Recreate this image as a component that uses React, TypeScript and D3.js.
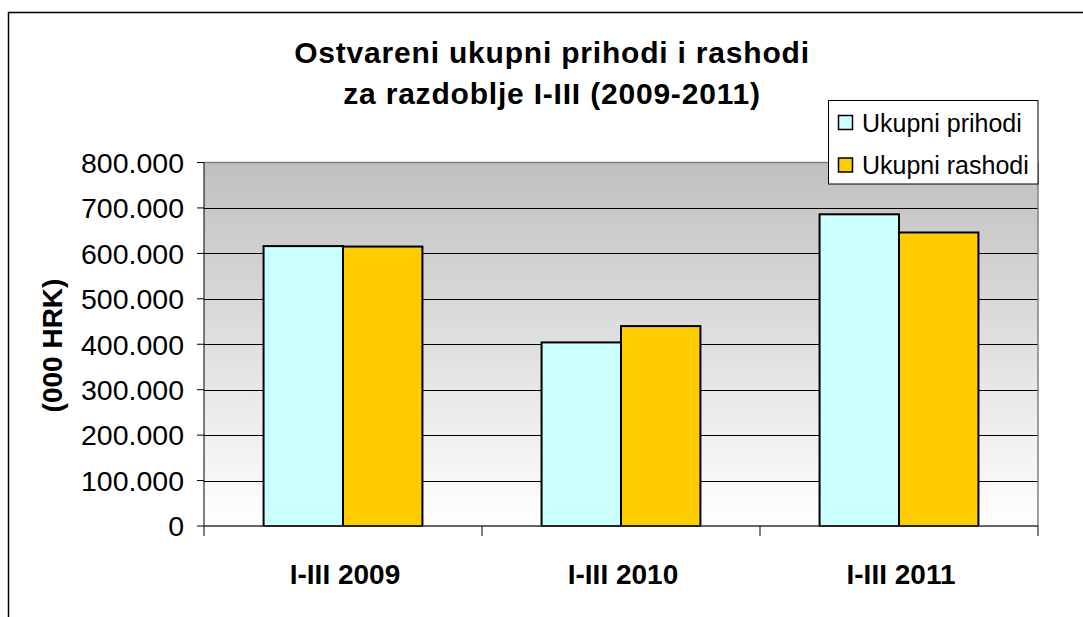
import React from 'react';
import * as d3 from 'd3';

// Chart data (values in thousands of HRK)
const categories = ['I-III 2009', 'I-III 2010', 'I-III 2011'];
const seriesNames = ['Ukupni prihodi', 'Ukupni rashodi'];
const prihodi = [616000, 404000, 686000];
const rashodi = [615000, 440000, 646000];
const yTicks = [0, 100000, 200000, 300000, 400000, 500000, 600000, 700000, 800000];
const titleLines = ['Ostvareni ukupni prihodi i rashodi', 'za razdoblje I-III (2009-2011)'];
const yAxisTitle = '(000 HRK)';

const colors = ['#CCFFFF', '#FFCC00'];
const FONT = '"Liberation Sans", Arial, sans-serif';

const W = 1083;
const H = 617;
const plot = { left: 204, right: 1038, top: 162.5, bottom: 526 };

const App: React.FC = () => {
  // scales
  const x0 = d3.scaleBand<string>().domain(categories).range([plot.left, plot.right]).padding(0);
  const x1 = d3
    .scaleBand<string>()
    .domain(seriesNames)
    .range([0, x0.bandwidth()])
    .paddingInner(0)
    .paddingOuter(0.75);
  const y = d3.scaleLinear().domain([0, 800000]).range([plot.bottom, plot.top]);

  // format numbers with dot as thousands separator
  const fmt = d3.formatLocale({ decimal: ',', thousands: '.', grouping: [3], currency: ['', ' kn'] }).format(',');

  const series = [prihodi, rashodi];

  return (
    <svg
      width={W}
      height={H}
      style={{ position: 'absolute', left: 0, top: 0, background: '#fff' }}
      fontFamily={FONT}
    >
      <defs>
        <linearGradient id="plotBg" x1="0" y1="0" x2="0" y2="1">
          <stop offset="0%" stopColor="#C0C0C0" />
          <stop offset="100%" stopColor="#FFFFFF" />
        </linearGradient>
      </defs>

      {/* outer chart border */}
      <rect x={8.5} y={12.5} width={1100} height={620} fill="#fff" stroke="#000" strokeWidth={1.5} />

      {/* plot area background */}
      <rect
        x={plot.left}
        y={plot.top}
        width={plot.right - plot.left}
        height={plot.bottom - plot.top}
        fill="url(#plotBg)"
      />

      {/* gridlines */}
      {yTicks.slice(1, -1).map(t => (
        <line key={t} x1={plot.left} x2={plot.right} y1={Math.round(y(t)) + 0.5} y2={Math.round(y(t)) + 0.5} stroke="#000" strokeWidth={1} />
      ))}

      {/* plot area border top/right */}
      <line x1={plot.left} x2={plot.right} y1={plot.top} y2={plot.top} stroke="#808080" strokeWidth={1.5} />
      <line x1={plot.right} x2={plot.right} y1={plot.top} y2={plot.bottom} stroke="#808080" strokeWidth={1.5} />

      {/* bars */}
      {categories.map((c, i) => (
        <g key={c} transform={`translate(${x0(c)},0)`}>
          {seriesNames.map((s, j) => (
            <rect
              key={s}
              x={x1(s)}
              y={y(series[j][i])}
              width={x1.bandwidth()}
              height={y(0) - y(series[j][i])}
              fill={colors[j]}
              stroke="#000"
              strokeWidth={2}
            />
          ))}
        </g>
      ))}

      {/* y axis */}
      <line x1={plot.left} x2={plot.left} y1={plot.top} y2={plot.bottom} stroke="#000" strokeWidth={1} />
      {yTicks.map(t => (
        <g key={t}>
          <line x1={plot.left - 7} x2={plot.left} y1={y(t)} y2={y(t)} stroke="#000" strokeWidth={1} />
          <text x={184} y={y(t)} dy="0.36em" textAnchor="end" fontSize={28.5} fill="#000">
            {fmt(t)}
          </text>
        </g>
      ))}

      {/* x axis */}
      <line x1={plot.left} x2={plot.right} y1={plot.bottom} y2={plot.bottom} stroke="#333" strokeWidth={1.5} />
      {categories.map((c, i) => (
        <line key={`t${i}`} x1={x0(c)} x2={x0(c)} y1={plot.bottom} y2={plot.bottom + 10} stroke="#000" strokeWidth={1} />
      ))}
      <line x1={plot.right} x2={plot.right} y1={plot.bottom} y2={plot.bottom + 10} stroke="#000" strokeWidth={1} />
      {categories.map(c => (
        <text
          key={c}
          x={(x0(c) ?? 0) + x0.bandwidth() / 2 + 2}
          y={584}
          textAnchor="middle"
          fontSize={28}
          fontWeight="bold"
          fill="#000"
        >
          {c}
        </text>
      ))}

      {/* y axis title */}
      <text
        transform="translate(62,345.5) rotate(-90)"
        textAnchor="middle"
        fontSize={28}
        fontWeight="bold"
        fill="#000"
      >
        {yAxisTitle}
      </text>

      {/* title */}
      {titleLines.map((t, i) => (
        <text
          key={t}
          x={552}
          y={63 + i * 41}
          textAnchor="middle"
          fontSize={30}
          fontWeight="bold"
          letterSpacing={0.8}
          fill="#000"
        >
          {t}
        </text>
      ))}

      {/* legend */}
      <rect x={828.5} y={100.5} width={209.5} height={83.5} fill="#fff" stroke="#000" strokeWidth={1} />
      {seriesNames.map((s, j) => (
        <g key={s} transform={`translate(0,${122.5 + j * 42.5})`}>
          <rect x={838.5} y={-7} width={14} height={14} fill={colors[j]} stroke="#000" strokeWidth={1.5} />
          <text x={862} y={0} dy="0.36em" fontSize={25} fill="#000">
            {s}
          </text>
        </g>
      ))}
    </svg>
  );
};

export default App;
